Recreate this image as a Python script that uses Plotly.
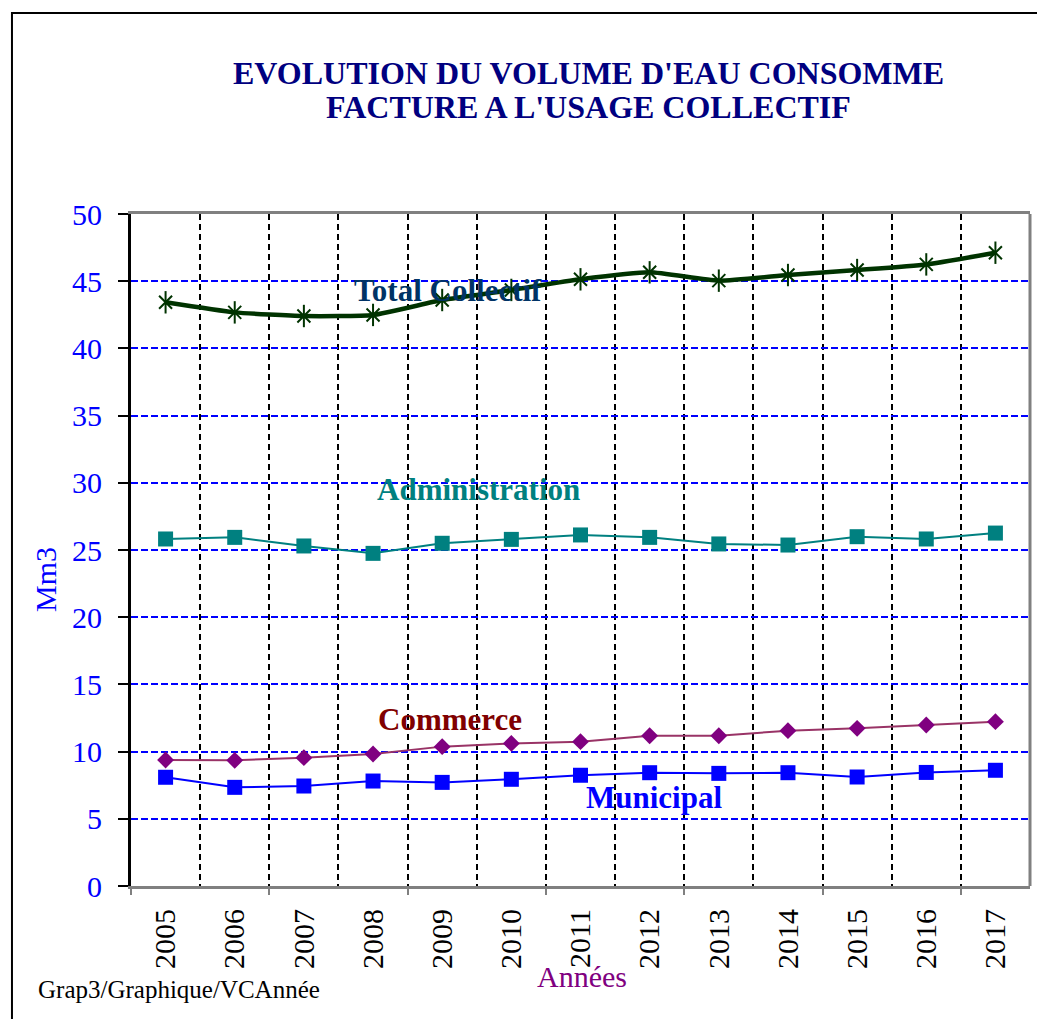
import plotly.graph_objects as go

years = [2005, 2006, 2007, 2008, 2009, 2010, 2011, 2012, 2013, 2014, 2015, 2016, 2017]
total_collectif = [43.43, 42.68, 42.41, 42.49, 43.6, 44.35, 45.14, 45.66, 45.04, 45.46, 45.83, 46.25, 47.12]
administration = [25.82, 25.94, 25.3, 24.75, 25.5, 25.79, 26.12, 25.94, 25.45, 25.37, 25.99, 25.82, 26.26]
commerce = [9.38, 9.35, 9.55, 9.82, 10.37, 10.61, 10.74, 11.18, 11.18, 11.56, 11.73, 11.98, 12.23]
municipal = [8.09, 7.34, 7.44, 7.81, 7.71, 7.94, 8.24, 8.43, 8.38, 8.43, 8.11, 8.45, 8.61]
y_ticks = [0, 5, 10, 15, 20, 25, 30, 35, 40, 45, 50]

FONT = "Liberation Serif, Times New Roman, serif"

fig = go.Figure()

fig.add_trace(go.Scatter(
    x=years, y=municipal, mode="lines+markers", name="Municipal",
    line=dict(color="#0000FF", width=2),
    marker=dict(symbol="square", size=15, color="#0000FF"),
))
fig.add_trace(go.Scatter(
    x=years, y=commerce, mode="lines+markers", name="Commerce",
    line=dict(color="#993366", width=2),
    marker=dict(symbol="diamond", size=13, color="#800080"),
))
fig.add_trace(go.Scatter(
    x=years, y=administration, mode="lines+markers", name="Administration",
    line=dict(color="#008080", width=2),
    marker=dict(symbol="square", size=15, color="#008080"),
))
fig.add_trace(go.Scatter(
    x=years, y=total_collectif, mode="lines+markers", name="Total Collectif",
    line=dict(color="#003300", width=4.5, shape="spline", smoothing=0.5),
    marker=dict(symbol="x-thin-open", size=13, color="#003300",
                line=dict(color="#003300", width=2)),
))
# vertical stroke of the star marker (Excel-style 6-arm asterisk), drawn on xaxis2
fig.add_trace(go.Scatter(
    x=years, y=total_collectif, mode="markers", name="Total Collectif",
    xaxis="x2",
    marker=dict(symbol="line-ns-open", size=16, color="#003300",
                line=dict(color="#003300", width=2)),
    hoverinfo="skip",
))

x_range = [2004.5, 2017.5]
boundaries = [y + 0.5 for y in years[:-1]]

# page body has an 8px margin, so the figure is offset by 8px
fig.update_layout(
    width=1037, height=1011,
    margin=dict(l=123, r=15, t=206, b=133),
    paper_bgcolor="white", plot_bgcolor="white",
    showlegend=False,
    font=dict(family=FONT, color="black"),
    xaxis=dict(
        type="linear", range=x_range,
        tickmode="array", tickvals=years, ticktext=[str(y) for y in years],
        tickangle=-90, tickfont=dict(family=FONT, size=30, color="black"),
        ticks="", ticklabelstandoff=8,
        showgrid=False, zeroline=False,
        showline=True, linecolor="#808080", linewidth=3, mirror=True,
        minor=dict(tickmode="array", tickvals=boundaries,
                   showgrid=True, gridcolor="black", gridwidth=1.6,
                   griddash="6px,4px", ticks=""),
    ),
    xaxis2=dict(
        type="linear", range=x_range, overlaying="x", anchor="y", side="bottom",
        tickmode="array", tickvals=[x_range[0] + 2 * k for k in range(7)],
        ticks="outside", ticklen=8, tickwidth=2, tickcolor="#808080",
        showticklabels=False, showgrid=False, showline=False, zeroline=False,
    ),
    yaxis=dict(
        range=[0, 50], tickmode="array", tickvals=y_ticks,
        tickfont=dict(family=FONT, size=30, color="#0000FF"),
        ticks="outside", ticklen=10, tickwidth=2, tickcolor="black",
        ticklabelstandoff=10,
        showgrid=True, gridcolor="#0000FF", gridwidth=1.6, griddash="7px,3px",
        zeroline=False,
        showline=True, linecolor="black", linewidth=3,
    ),
)

# right border of plot area and outer chart frame
fig.add_shape(type="line", xref="paper", yref="paper", x0=1, x1=1, y0=0, y1=1,
              line=dict(color="#808080", width=3))
fig.add_shape(type="rect", xref="paper", yref="paper",
              x0=-0.1324, x1=1.2, y0=-0.4, y1=1.299,
              line=dict(color="black", width=2), layer="below")

annos = [
    dict(text="<b>EVOLUTION DU VOLUME D'EAU CONSOMME</b>", x=0.509, y=(886 - 73) / 672,
         font=dict(size=32, color="#000080")),
    dict(text="<b>FACTURE A L'USAGE COLLECTIF</b>", x=0.509, y=(886 - 107) / 672,
         font=dict(size=32, color="#000080")),
    dict(text="Mm3", x=(45 - 131) / 899, y=(886 - 580) / 672, textangle=-90,
         font=dict(size=30, color="#0000FF")),
    dict(text="Années", x=(582 - 131) / 899, y=(886 - 976) / 672,
         font=dict(size=30, color="#800080")),
    dict(text="Grap3/Graphique/VCAnnée", x=(36 - 131) / 899, y=(886 - 990) / 672,
         xanchor="left", font=dict(size=25, color="black")),
]
for a in annos:
    fig.add_annotation(xref="paper", yref="paper", showarrow=False,
                       xanchor=a.pop("xanchor", "center"), yanchor="middle",
                       font=dict(family=FONT, **a.pop("font")), **a)

labels = [
    ("<b>Total Collectif</b>", 2009.09, 44.3, "#003366"),
    ("<b>Administration</b>", 2009.52, 29.5, "#008080"),
    ("<b>Commerce</b>", 2009.12, 12.4, "#800000"),
    ("<b>Municipal</b>", 2012.07, 6.6, "#0000FF"),
]
for text, x, y, c in labels:
    fig.add_annotation(xref="x", yref="y", x=x, y=y, text=text, showarrow=False,
                       xanchor="center", yanchor="middle",
                       font=dict(family=FONT, size=31, color=c))

fig.write_html("out.html")
